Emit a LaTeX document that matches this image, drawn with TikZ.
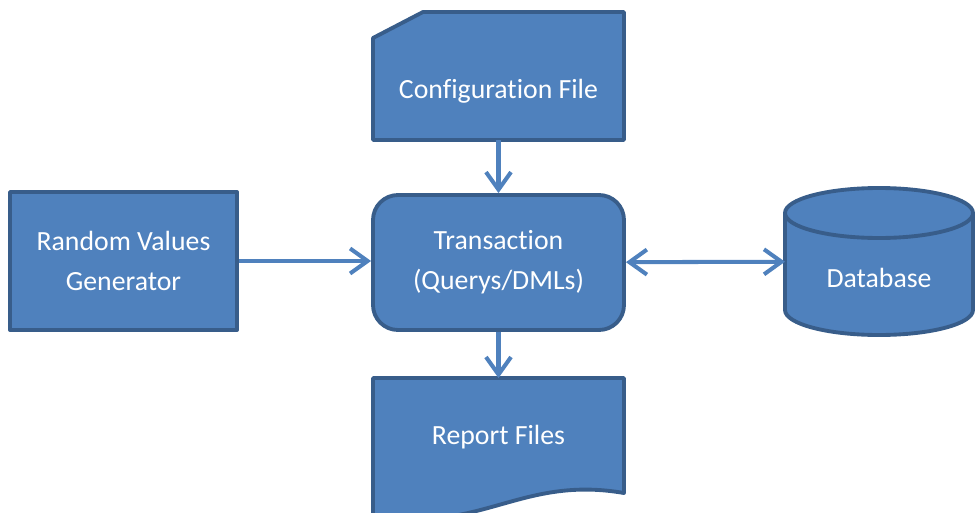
\documentclass[tikz,border=0pt]{standalone}
\usepackage{fontspec}
\setmainfont{Carlito}[Ligatures=NoCommon]
\usepackage{xcolor}
\definecolor{boxfill}{RGB}{79,129,189}
\definecolor{boxline}{RGB}{56,93,138}
\usetikzlibrary{arrows.meta,calc}

\begin{document}
\begin{tikzpicture}[y=-1cm, font=\fontsize{15.8}{22.8}\selectfont, >={Straight Barb[length=3.5mm,width=5mm]},
  blk/.style={draw=boxline, fill=boxfill, line width=2.2pt, line join=round},
  txt/.style={text=white, align=center},
  area/.style={inner sep=0pt, outer sep=0pt},
  link/.style={boxfill, line width=2.3pt, ->}]
\useasboundingbox (0,0) rectangle (19.5,10.24);

% configuration file (corner cut off)
\node[area, minimum width=5.02cm, minimum height=2.56cm] (cfg) at (9.97,1.52) {};
\draw[blk] ($(cfg.north west)+(0,0.52)$) -- ($(cfg.north west)+(1,0)$) -- (cfg.north east)
  -- (cfg.south east) -- (cfg.south west) -- cycle;
\node[txt] (cfgtxt) at (9.97,1.82) {Configuration File};

\node[blk, txt, rounded corners=0.5cm, minimum width=5.02cm, minimum height=2.7cm] (trans) at (9.97,5.25) {Transaction\\(Querys/DMLs)};
\node[blk, txt, minimum width=4.54cm, minimum height=2.76cm] (gen) at (2.47,5.22) {Random Values\\Generator};

% database cylinder
\node[area, minimum width=3.76cm, minimum height=2.94cm] (db) at (17.58,5.23) {};
\draw[blk] (15.7,4.26) -- (15.7,6.2) arc[start angle=180, end angle=0, x radius=1.88, y radius=0.5]
  -- (19.46,4.26) arc[start angle=0, end angle=-180, x radius=1.88, y radius=0.5] -- cycle;
\draw[blk, fill=none] (19.46,4.26) arc[start angle=0, end angle=180, x radius=1.88, y radius=0.5];
\node[txt] (dbtxt) at (17.58,5.56) {Database};

% report document with wavy bottom
\node[area, minimum width=5.02cm, minimum height=2.68cm] (rep) at (9.97,8.9) {};
\draw[blk] (rep.north west) -- (rep.north east) -- (12.48,9.86)
  .. controls (10.4,9.5) and (9.6,10.7) .. (7.46,10.3) -- cycle;
\node[txt] (reptxt) at (9.97,8.74) {Report Files};

\draw[link] (cfg) -- (trans);
\draw[link] (trans) -- (rep);
\draw[link] (gen.east) -- (gen.east -| trans.west);
\draw[link, <->] (trans) -- (db);
\end{tikzpicture}
\end{document}
